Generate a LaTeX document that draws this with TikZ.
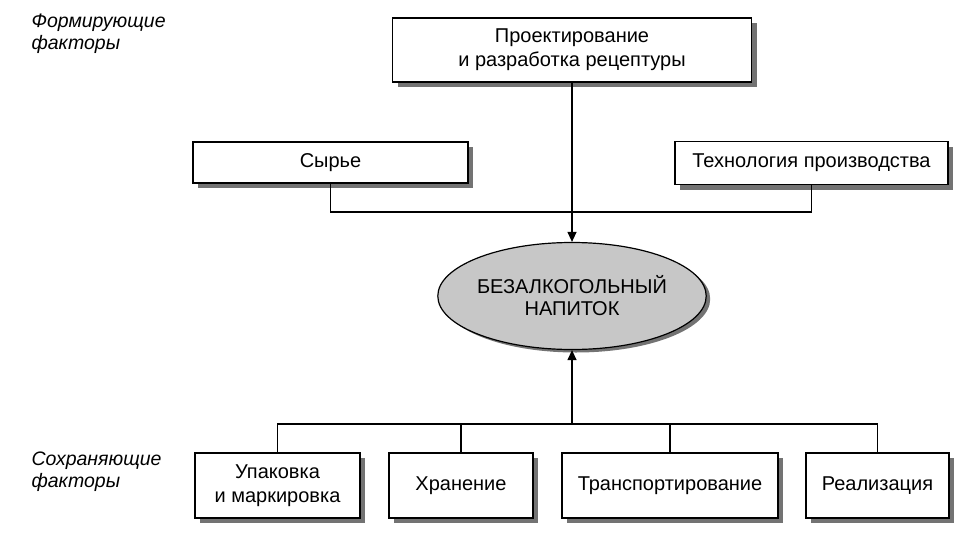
\documentclass[tikz,border=0pt]{standalone}
\usepackage{fontspec}
\setmainfont{Liberation Sans}
\usetikzlibrary{arrows.meta,shadows,shapes.geometric}

\begin{document}
\begin{tikzpicture}
    [x=1pt,y=-1pt,
     box/.style={draw=black,line width=1.2pt,fill=white,align=center,inner sep=0pt,
       font=\fontsize{20}{24}\selectfont,
       drop shadow={shadow xshift=5pt,shadow yshift=-5pt,fill=black!55,opacity=1}},
     pre/.style={<-,>={Triangle[length=10pt,width=9pt]},line width=1.2pt},
     link/.style={line width=1.2pt},
     side/.style={align=left,anchor=north west,font=\fontsize{19.5}{22}\selectfont\itshape}]
    \useasboundingbox (0,0) rectangle (980,546);
    % forming factors
    \node [side] (form) at (28,10) {Формирующие\\факторы};
    \node [box,minimum width=359pt,minimum height=64pt] (proj) at (572,50) {Проектирование\\и разработка рецептуры};
    \node [box,minimum width=275pt,minimum height=41pt] (raw) at (330.5,162.5) {Сырье};
    \node [box,minimum width=273pt,minimum height=43pt] (tech) at (811.5,163) {Технология производства};
    % product
    \node [ellipse,draw=black,line width=1.2pt,fill=black!22,inner sep=0pt,
      minimum width=231pt,minimum height=107pt,align=center,
      font=\fontsize{20}{22}\selectfont,
      drop shadow={shadow xshift=4pt,shadow yshift=-3pt,fill=black!55,opacity=1}]
      (drink) at (572,296) {БЕЗАЛКОГОЛЬНЫЙ\\НАПИТОК};
    \coordinate (join) at (572,212);
    \draw [link] (raw.south) |- (join) -| (tech.south);
    \draw [pre] (drink.north) -- (proj.south);
    % keeping factors
    \node [side] (keep) at (28,448) {Сохраняющие\\факторы};
    \node [box,minimum width=165pt,minimum height=65pt] (pack) at (277.5,485.5) {Упаковка\\и маркировка};
    \node [box,minimum width=144pt,minimum height=65pt] (store) at (461,485.5) {Хранение};
    \node [box,minimum width=216pt,minimum height=65pt] (trans) at (670,485.5) {Транспортирование};
    \node [box,minimum width=143pt,minimum height=65pt] (sale) at (877.5,485.5) {Реализация};
    \coordinate (bus) at (572,424);
    \draw [link] (pack.north) -- (pack.north |- bus) -- (sale.north |- bus) -- (sale.north);
    \draw [link] (store.north) -- (store.north |- bus);
    \draw [link] (trans.north) -- (trans.north |- bus);
    \draw [pre] (drink.south) -- (bus);
\end{tikzpicture}
\end{document}
